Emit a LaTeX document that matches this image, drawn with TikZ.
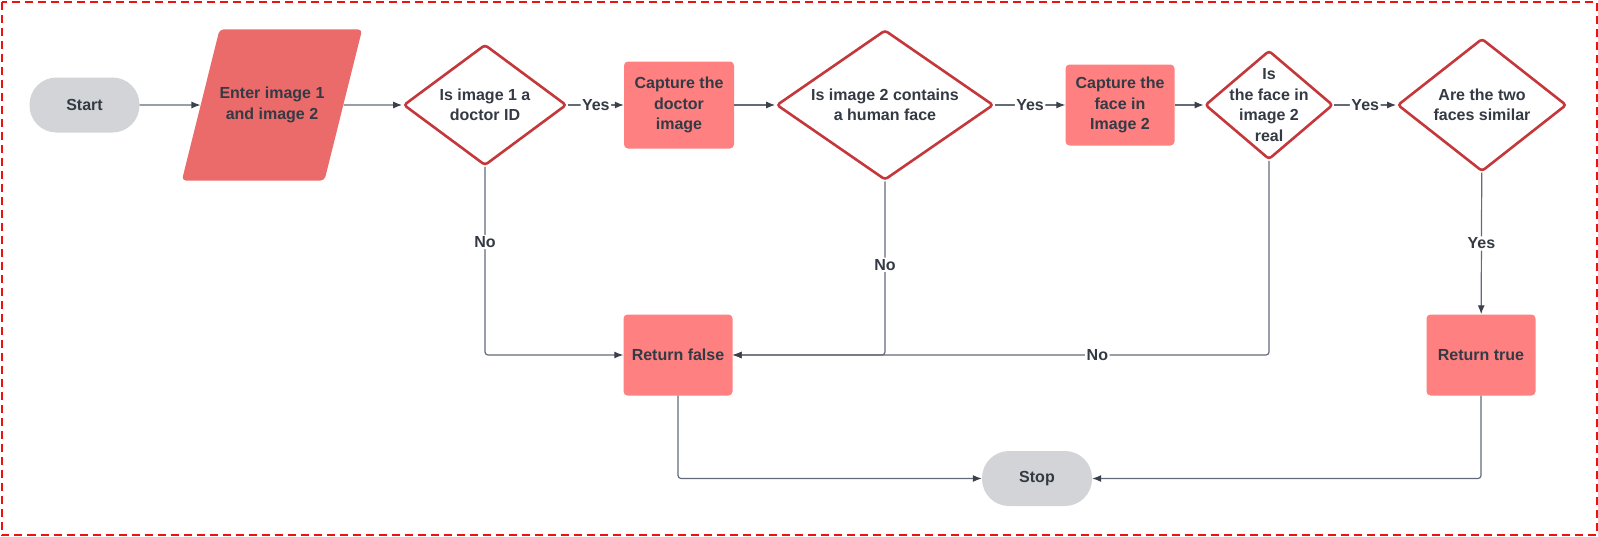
\documentclass[tikz,border=0pt]{standalone}
\usepackage{fontspec}
\setmainfont{Liberation Sans}
\usetikzlibrary{shapes.geometric,arrows.meta}
\definecolor{txt}{HTML}{343A44}
\definecolor{boxfill}{HTML}{FF8080}
\definecolor{infill}{HTML}{EB6B6B}
\definecolor{dstroke}{HTML}{C4373A}
\definecolor{termfill}{HTML}{D3D4D7}
\definecolor{linec}{HTML}{646B78}
\definecolor{arrowc}{HTML}{3A414B}
\definecolor{bordr}{HTML}{F01010}
\begin{document}
\begin{tikzpicture}[x=1pt,y=-1pt,
  every node/.style={font=\fontsize{16}{20.5}\selectfont\bfseries, text=txt, align=center},
  term/.style={rectangle, fill=termfill, rounded corners=27pt, minimum width=110pt, minimum height=55pt, inner sep=0pt},
  procbox/.style={rectangle, fill=boxfill, rounded corners=4pt, minimum width=109pt, minimum height=81pt, inner sep=0pt},
  decision/.style={diamond, draw=dstroke, line width=2.6pt, fill=white, rounded corners=3pt, inner sep=0pt},
  inputbox/.style={trapezium, trapezium left angle=76, trapezium right angle=104, fill=infill, rounded corners=4pt, inner xsep=0pt, inner ysep=57.8pt},
  conn/.style={draw=linec, line width=1.2pt, rounded corners=3pt, -{Latex[length=9pt,width=7pt,color=arrowc]}},
  lbl/.style={fill=white, inner sep=1.5pt}
]
\useasboundingbox (0,0) rectangle (1598,536);
\draw[bordr, line width=2pt, dash pattern=on 8pt off 5pt] (1.5,1.5) rectangle (1596.5,534.5);

\node[term] (start) at (84.5,105) {Start};
\node[inputbox] (in) at (272,105) {Enter image 1\\and image 2};
\node[decision, minimum width=163pt, minimum height=121pt, label={center:{Is image 1 a\\doctor ID}}] (d1) at (485,105) {};
\node[procbox, minimum width=110pt, minimum height=87pt] (b1) at (679,105) {Capture the\\doctor\\image};
\node[decision, minimum width=217pt, minimum height=150pt, label={center:{Is image 2 contains\\a human face}}] (d2) at (885,105) {};
\node[procbox] (b2) at (1120,105) {Capture the\\face in\\Image 2};
\node[decision, minimum width=128pt, minimum height=109pt, label={center:{Is\\the face in\\image 2\\real}}] (d3) at (1269,105) {};
\node[decision, minimum width=169pt, minimum height=133pt, label={center:{Are the two\\faces similar}}] (d4) at (1482,105) {};
\node[procbox] (rf) at (678,355) {Return false};
\node[procbox] (rt) at (1481,355) {Return true};
\node[term] (stop) at (1037,478.5) {Stop};

\draw[conn] (start) -- (in);
\draw[conn] (in) -- (d1);
\draw[conn] (d1) -- node[lbl]{Yes} (b1);
\draw[conn] (b1) -- (d2);
\draw[conn] (d2) -- node[lbl]{Yes} (b2);
\draw[conn] (b2) -- (d3);
\draw[conn] (d3) -- node[lbl]{Yes} (d4);
\draw[conn] (d4) -- node[lbl]{Yes} (rt);
\draw[conn] (d1.south) |- node[lbl,pos=0.2]{No} (rf.west);
\draw[conn] (d2.south) |- node[lbl,pos=0.24]{No} (rf.east);
\draw[conn] (d3.south) |- node[lbl,pos=0.66]{No} (rf.east);
\draw[conn] (rf.south) |- (stop.west);
\draw[conn] (rt.south) |- (stop.east);
\end{tikzpicture}
\end{document}
